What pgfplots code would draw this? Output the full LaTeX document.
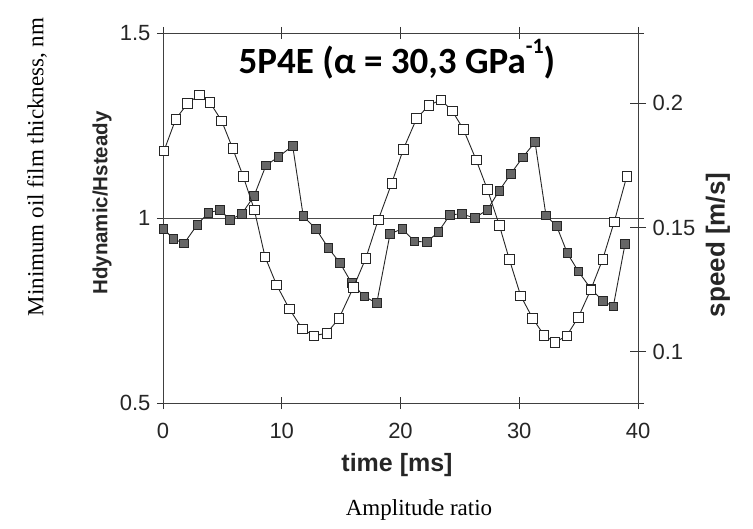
\documentclass[border=0pt]{standalone}
\usepackage{pgfplots}
\pgfplotsset{compat=1.18}
\usepackage{fontspec}
\setmainfont{Liberation Sans}
\newfontfamily\seriffont{Liberation Serif}
\newfontfamily\titlefont{Carlito}
\pgfplotstableread{
t v
0.08 0.1808
1.07 0.1936
2.08 0.2000
3.06 0.2033
3.96 0.2003
4.94 0.1929
5.87 0.1818
6.76 0.1705
7.69 0.1571
8.59 0.1382
9.57 0.1268
10.64 0.1172
11.73 0.1091
12.72 0.1064
13.79 0.1074
14.82 0.1134
16.03 0.1258
17.07 0.1375
18.13 0.1531
19.26 0.1678
20.24 0.1815
21.36 0.1939
22.40 0.1992
23.41 0.2014
24.36 0.1969
25.29 0.1896
26.37 0.1772
27.31 0.1654
28.32 0.1509
29.16 0.1372
30.12 0.1225
31.13 0.1134
32.08 0.1066
33.01 0.1037
34.00 0.1064
34.97 0.1138
36.02 0.1249
37.03 0.1372
38.00 0.1523
39.05 0.1705
}\speeddata
\pgfplotstableread{
t h
0.03 0.971
0.87 0.944
1.77 0.931
2.89 0.982
3.81 1.014
4.80 1.022
5.64 0.995
6.63 1.011
7.66 1.059
8.67 1.142
9.71 1.165
10.92 1.195
11.81 1.005
12.87 0.971
13.92 0.919
14.91 0.878
15.89 0.824
16.95 0.788
18.00 0.770
19.12 0.957
20.15 0.971
21.16 0.937
22.21 0.935
23.18 0.962
24.17 1.009
25.15 1.011
26.24 1.000
27.31 1.022
28.32 1.074
29.28 1.119
30.29 1.164
31.33 1.205
32.25 1.007
33.15 0.978
34.05 0.905
34.97 0.856
36.02 0.809
37.03 0.776
37.92 0.761
38.91 0.930
}\hdata
\begin{document}
\begin{tikzpicture}
\begin{axis}[
  at={(0,0)}, anchor=south west,
  scale only axis, width=475pt, height=370pt,
  xmin=0, xmax=40, ymin=0.5, ymax=1.5,
  xtick={0,10,20,30,40}, ytick={0.5,1,1.5},
  tick align=center, major tick length=12pt,
  tick style={black!80, line width=0.8pt},
  axis line style={black!75, line width=0.8pt},
  ticklabel style={font=\fontsize{22}{26}\selectfont, black!85},
  /pgf/number format/assume math mode=true,
  yticklabel style={xshift=-3pt},
  xticklabel style={yshift=-11pt},
  clip=false,
]
\addplot[black!70, line width=0.6pt] coordinates {(0,1) (40,1)};
\addplot[black!85, line width=0.9pt, mark=square*, mark size=4.3pt,
  mark options={fill=black!60, draw=black!85, line width=0.8pt}] table[x=t,y=h] {\hdata};
\end{axis}
\begin{axis}[
  at={(0,0)}, anchor=south west,
  scale only axis, width=475pt, height=370pt,
  xmin=0, xmax=40, ymin=0.0793, ymax=0.2283,
  axis x line=none, axis y line*=right,
  ytick={0.1,0.15,0.2},
  tick align=center, major tick length=16pt,
  tick style={black!80, line width=0.8pt},
  axis line style={black!75, line width=0.8pt},
  ticklabel style={font=\fontsize{22}{26}\selectfont, black!85},
  /pgf/number format/assume math mode=true,
  yticklabel style={xshift=3pt},
  clip=false,
]
\addplot[black!85, line width=0.9pt, mark=square*, mark size=4.8pt,
  mark options={fill=white, draw=black!85, line width=0.8pt}] table[x=t,y=v] {\speeddata};
\end{axis}
\node[rotate=90, font=\seriffont\fontsize{23}{27}\selectfont] at (-126pt,236pt) {Minimum oil film thickness, nm};
\node[rotate=90, font=\bfseries\fontsize{20.5}{24}\selectfont, black!85] at (-61pt,200pt) {Hdynamic/Hsteady};
\node[rotate=90, font=\bfseries\fontsize{26}{30}\selectfont, black!85] at (555pt,158pt) {speed [m/s]};
\node[font=\bfseries\fontsize{25}{29}\selectfont, black!85] at (234pt,-62pt) {time [ms]};
\node[font=\seriffont\fontsize{23}{27}\selectfont] at (256pt,-107pt) {Amplitude ratio};
\node[anchor=base, font=\titlefont\bfseries\fontsize{37}{41}\selectfont] at (234pt,329pt) {5P4E (α = 30,3 GPa\raisebox{0.55em}{\fontsize{22}{22}\selectfont -1})};
\pgfresetboundingbox
\path[use as bounding box] (-163pt,-125pt) rectangle (590pt,403pt);
\end{tikzpicture}
\end{document}
